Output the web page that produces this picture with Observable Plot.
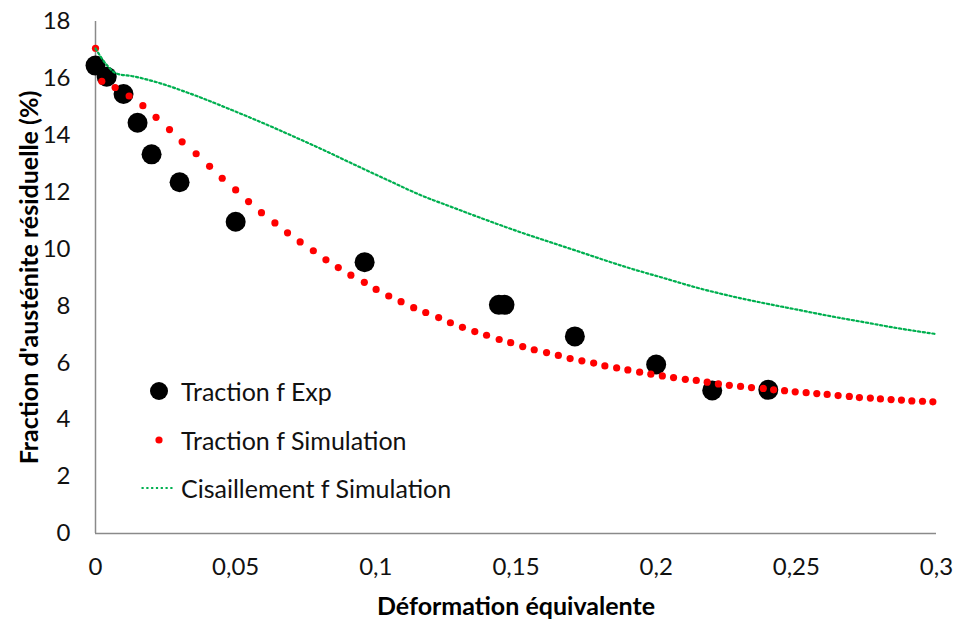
<!DOCTYPE html>
<html><head><meta charset="utf-8">
<script src="https://cdn.jsdelivr.net/npm/d3@7"></script>
<script src="https://cdn.jsdelivr.net/npm/@observablehq/plot@0.6"></script>
<style>
body{margin:0;background:#fff;}
#wrap{position:relative;width:957px;height:621px;font-family:Lato,sans-serif;}
.row{position:absolute;left:138px;height:30px;display:flex;align-items:center;transform:translateY(-50%);font-size:25px;color:#111;white-space:nowrap;}
.row svg{width:40px;height:30px;margin-right:3px;flex:none;}
</style></head><body><div id="wrap"></div>
<script>
// Experimental points (Traction f Exp)
const expX = [0, 0.004, 0.01, 0.015, 0.02, 0.03, 0.05, 0.096, 0.1439, 0.1459, 0.171, 0.2, 0.22, 0.24];
const expY = [16.45, 16.06, 15.45, 14.44, 13.33, 12.35, 10.96, 9.54, 8.04, 8.04, 6.93, 5.94, 5.03, 5.05];
// Simulation points (Traction f Simulation)
const simX = [0, 0.00225, 0.0070, 0.0120, 0.0169, 0.0216, 0.0264, 0.0309, 0.0359, 0.0407, 0.0452, 0.0500, 0.0546, 0.0592, 0.0640, 0.0685,
  0.0730, 0.0777, 0.0822, 0.0866, 0.0911, 0.0959, 0.1001, 0.1046, 0.1090, 0.1135, 0.1178, 0.1224, 0.1266, 0.1309, 0.1353, 0.1395,
  0.1440, 0.1481, 0.1524, 0.1565, 0.1609, 0.1651, 0.1693, 0.1735, 0.1777, 0.1817, 0.1859, 0.1899, 0.1941, 0.1981, 0.2022, 0.2062,
  0.2104, 0.2143, 0.2182, 0.2222, 0.2261, 0.2301, 0.2340, 0.2382, 0.2419, 0.2458, 0.2496, 0.2535, 0.2573, 0.2610, 0.2649, 0.2689,
  0.2725, 0.2764, 0.2800, 0.2838, 0.2875, 0.2912, 0.2950, 0.2987];
const simY = [17.06, 15.90, 15.68, 15.38, 15.04, 14.63, 14.20, 13.77, 13.35, 12.91, 12.49, 12.08, 11.67, 11.28, 10.92, 10.57,
  10.25, 9.94, 9.62, 9.35, 9.08, 8.83, 8.58, 8.35, 8.15, 7.94, 7.77, 7.59, 7.41, 7.25, 7.10, 6.97,
  6.82, 6.71, 6.57, 6.46, 6.36, 6.26, 6.15, 6.07, 5.99, 5.89, 5.82, 5.75, 5.67, 5.60, 5.54, 5.48,
  5.42, 5.38, 5.32, 5.26, 5.21, 5.17, 5.13, 5.10, 5.05, 5.02, 4.98, 4.95, 4.92, 4.89, 4.85, 4.82,
  4.78, 4.76, 4.73, 4.71, 4.69, 4.66, 4.65, 4.63];
// Shear simulation curve (Cisaillement f Simulation)
const shearX = [0, 0.0042, 0.0075, 0.0136, 0.0220, 0.0339, 0.0493, 0.0600, 0.0731, 0.0803, 0.0921, 0.1041, 0.1159, 0.1278, 0.1397,
  0.1516, 0.1635, 0.1706, 0.1908, 0.2027, 0.2146, 0.2265, 0.2384, 0.2503, 0.2622, 0.2741, 0.2860, 0.3];
const shearY = [17.05, 16.45, 16.17, 16.07, 15.86, 15.46, 14.86, 14.42, 13.85, 13.53, 12.98, 12.43, 11.90, 11.45, 11.01,
  10.59, 10.20, 9.97, 9.32, 8.98, 8.64, 8.35, 8.10, 7.87, 7.64, 7.43, 7.22, 7.01];

const xTicks = [0, 0.05, 0.1, 0.15, 0.2, 0.25, 0.3];
const yTicks = [0, 2, 4, 6, 8, 10, 12, 14, 16, 18];
const seriesNames = ["Traction f Exp", "Traction f Simulation", "Cisaillement f Simulation"];
const xTitle = "Déformation équivalente";
const yTitle = "Fraction d'austénite résiduelle (%)";

const toRows = (xs, ys) => xs.map((x, i) => ({x, y: ys[i]}));
const exp = toRows(expX, expY);
const sim = toRows(simX, simY);
const shear = toRows(shearX, shearY);
const fmt = d => String(d).replace(".", ",");

const chart = Plot.plot({
  width: 957, height: 621,
  marginLeft: 95, marginRight: 21, marginTop: 21, marginBottom: 88,
  style: {fontFamily: "Lato, sans-serif", fontSize: "24px", color: "#111", background: "#fff", overflow: "visible"},
  x: {domain: [0, 0.3]},
  y: {domain: [0, 18]},
  marks: [
    Plot.ruleX([0], {stroke: "#8a8a8a", strokeWidth: 1.5}),
    Plot.ruleY([0], {stroke: "#8a8a8a", strokeWidth: 1.5}),
    Plot.axisX({ticks: xTicks, tickSize: 0, tickPadding: 24, tickFormat: fmt,
      label: xTitle, labelAnchor: "center", labelArrow: "none", labelOffset: 81}),
    Plot.axisY({ticks: yTicks, tickSize: 0, tickPadding: 25,
      label: yTitle, labelAnchor: "center", labelArrow: "none", labelOffset: 75}),
    Plot.dot(exp, {x: "x", y: "y", r: 10, fill: "#000"}),
    Plot.dot(sim, {x: "x", y: "y", r: 3.6, fill: "#ff0000"}),
    Plot.line(shear, {x: "x", y: "y", stroke: "#00b050", strokeWidth: 2.2, strokeDasharray: "2.2,2.6", curve: "monotone-x"})
  ]
});
const wrap = document.getElementById("wrap");
wrap.appendChild(chart);
chart.querySelectorAll('[aria-label="x-axis label"] text, [aria-label="y-axis label"] text').forEach(t => {
  t.style.fontWeight = "bold"; t.style.fontSize = "25px"; t.style.fill = "#000";
});

const swatches = [
  '<svg viewBox="0 0 40 30"><circle cx="21" cy="15" r="9" fill="#000"/></svg>',
  '<svg viewBox="0 0 40 30"><circle cx="21" cy="15" r="3.6" fill="#ff0000"/></svg>',
  '<svg viewBox="0 0 40 30"><line x1="3.5" y1="15" x2="37" y2="15" stroke="#00b050" stroke-width="2.2" stroke-dasharray="2.2,2.6"/></svg>'
];
const rowY = [391, 440, 488];
seriesNames.forEach((name, i) => {
  const r = document.createElement("div");
  r.className = "row";
  r.style.top = rowY[i] + "px";
  r.innerHTML = swatches[i] + "<span>" + name + "</span>";
  wrap.appendChild(r);
});
</script></body></html>
